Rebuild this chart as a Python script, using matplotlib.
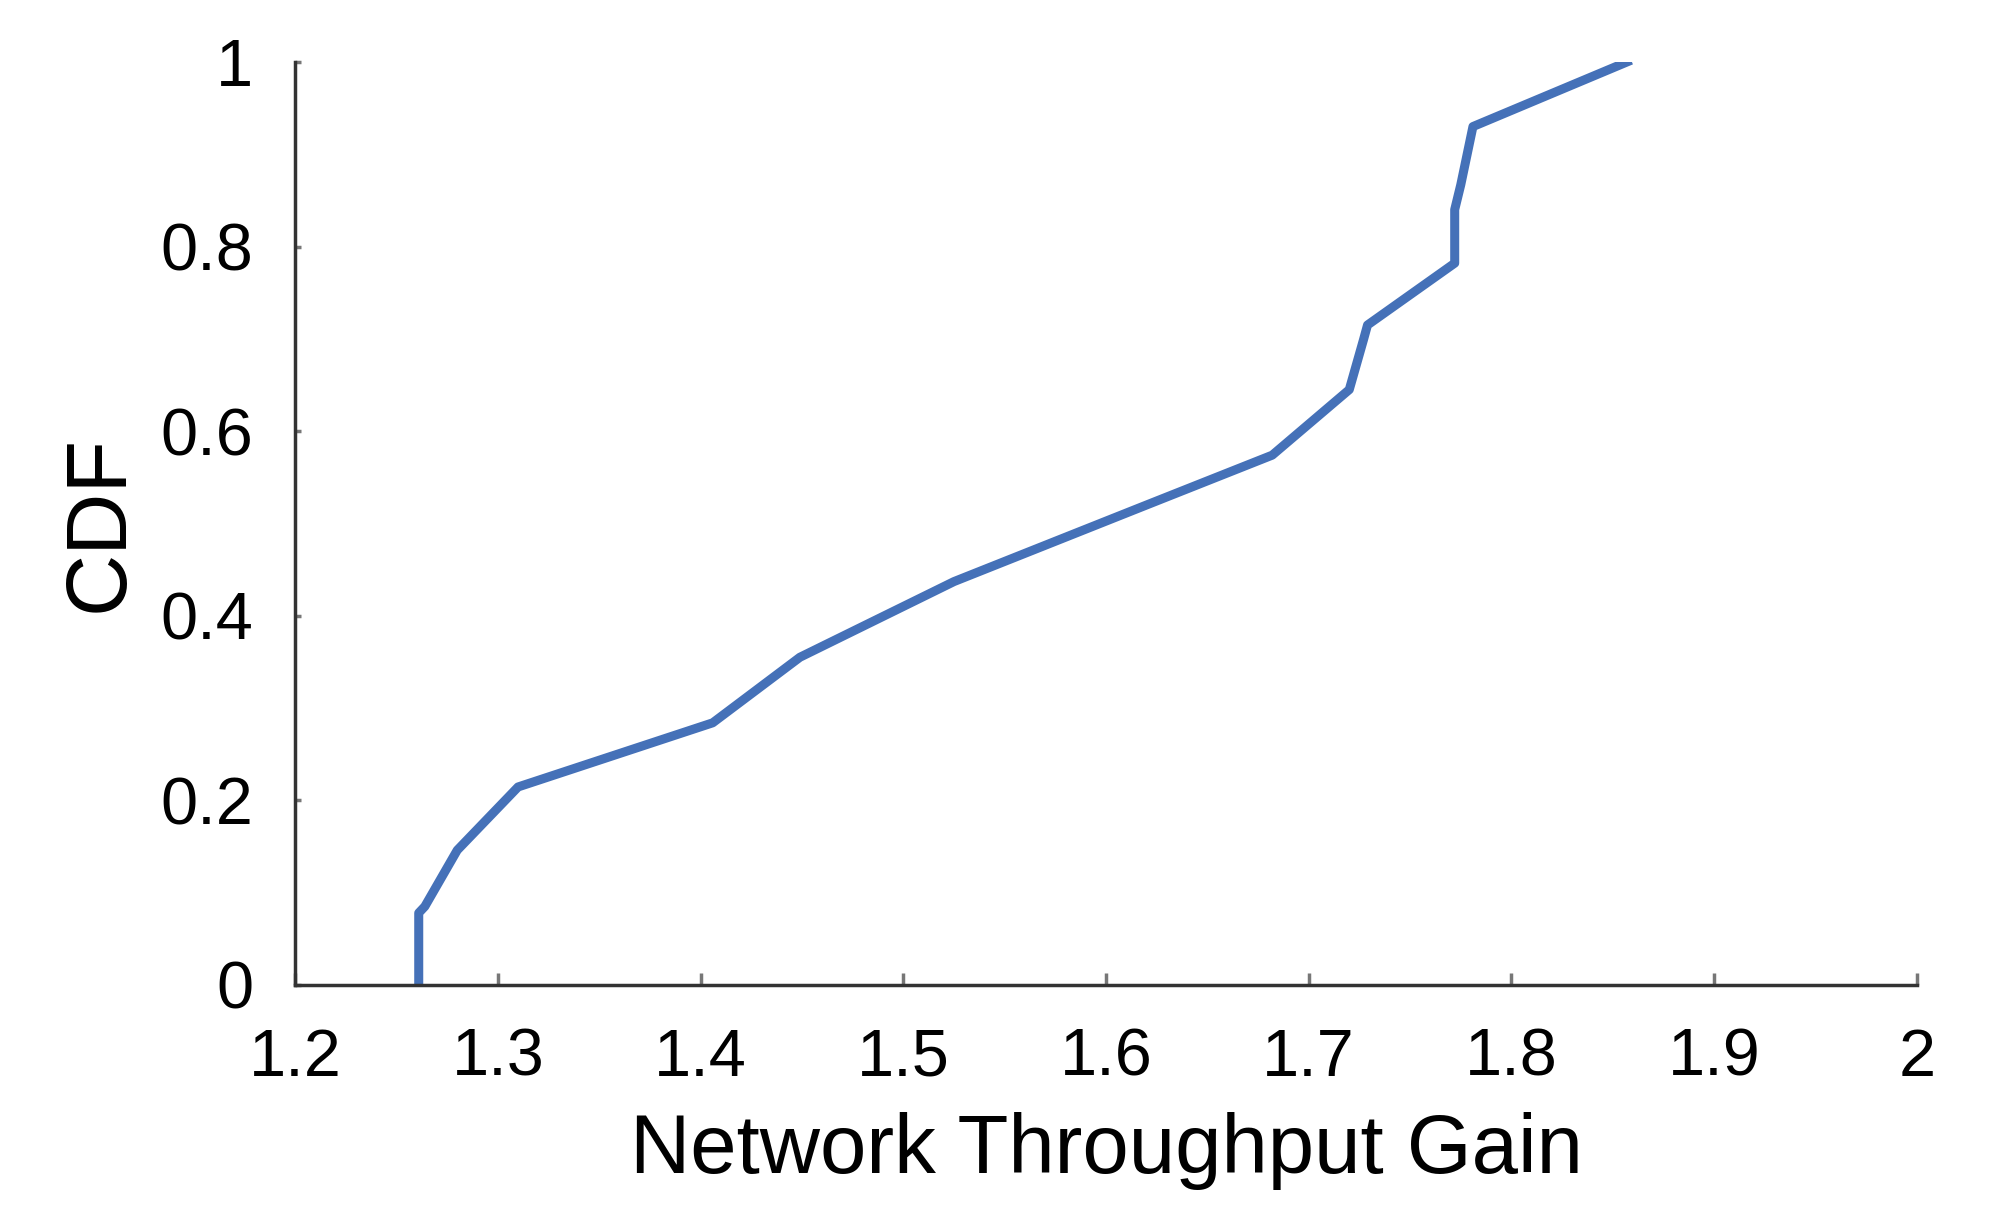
import matplotlib
matplotlib.use("Agg")
from matplotlib import pyplot as plt

plt.rcParams['font.family'] = ['Liberation Sans', 'DejaVu Sans']

# CDF of network throughput gain
gain = [1.261, 1.261, 1.264, 1.280, 1.310, 1.406, 1.449, 1.525, 1.620,
        1.682, 1.720, 1.727, 1.729, 1.772, 1.772, 1.775, 1.781, 1.857]
cdf = [0.0, 0.078, 0.085, 0.146, 0.2145, 0.284, 0.355, 0.437, 0.520,
       0.574, 0.645, 0.699, 0.715, 0.782, 0.840, 0.867, 0.930, 1.0]

x_ticks = [1.2, 1.3, 1.4, 1.5, 1.6, 1.7, 1.8, 1.9, 2.0]
x_labels = ["1.2", "1.3", "1.4", "1.5", "1.6", "1.7", "1.8", "1.9", "2"]
y_ticks = [0, 0.2, 0.4, 0.6, 0.8, 1.0]
y_labels = ["0", "0.2", "0.4", "0.6", "0.8", "1"]

fig = plt.figure(figsize=(19.91, 12.10), dpi=100)
ax = fig.add_axes([0.1482, 0.1860, 0.8146, 0.7628])

ax.plot(gain, cdf, color="#4571b8", linewidth=6.5, solid_joinstyle="round")

ax.set_xlim(1.2, 2.0)
ax.set_ylim(0, 1)
ax.set_xticks(x_ticks)
ax.set_xticklabels(x_labels)
ax.set_yticks(y_ticks)
ax.set_yticklabels(y_labels)

for side in ["top", "right"]:
    ax.spines[side].set_visible(False)
for side in ["left", "bottom"]:
    ax.spines[side].set_color("#333333")
    ax.spines[side].set_linewidth(2.5)

ax.tick_params(axis="x", direction="in", length=9, width=2.5, color="#777777",
               labelsize=48, pad=31)
ax.tick_params(axis="y", direction="in", length=4, width=2.5, color="#777777",
               labelsize=48, pad=30)

ax.set_xlabel("Network Throughput Gain", fontsize=60, labelpad=16)
ax.set_ylabel("CDF", fontsize=62, labelpad=14)

fig.savefig("out.png", dpi=100)
